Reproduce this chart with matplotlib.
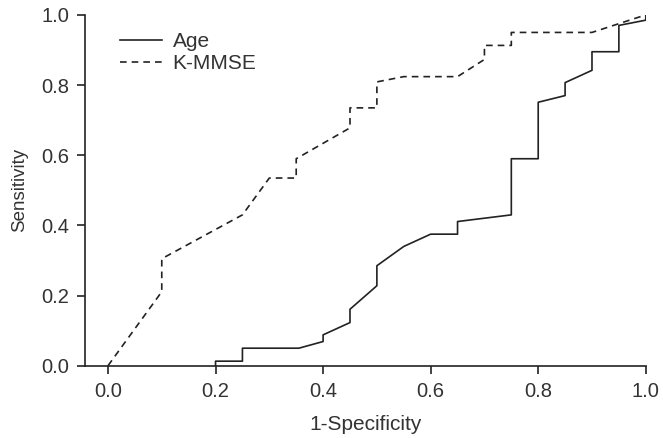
#!/usr/bin/env python3
# -*- coding: utf-8 -*-

import matplotlib
matplotlib.use("Agg")
import matplotlib.pyplot as plt

# ROC curve vertices
age_fpr = [0.20, 0.20, 0.25, 0.25, 0.355, 0.40, 0.40, 0.45, 0.45, 0.50, 0.50,
           0.55, 0.60, 0.65, 0.65, 0.75, 0.75, 0.80, 0.80, 0.85, 0.85, 0.90,
           0.90, 0.95, 0.95, 1.00, 1.00]
age_tpr = [0.00, 0.013, 0.013, 0.05, 0.05, 0.069, 0.088, 0.123, 0.161, 0.228, 0.285,
           0.34, 0.375, 0.375, 0.411, 0.43, 0.59, 0.59, 0.751, 0.77, 0.807, 0.842,
           0.895, 0.895, 0.97, 0.985, 1.00]

mmse_fpr = [0.00, 0.10, 0.10, 0.25, 0.30, 0.35, 0.35, 0.45, 0.45, 0.50, 0.50,
            0.55, 0.65, 0.70, 0.70, 0.75, 0.75, 0.90, 1.00]
mmse_tpr = [0.00, 0.211, 0.305, 0.43, 0.535, 0.535, 0.59, 0.678, 0.735, 0.735, 0.809,
            0.824, 0.824, 0.873, 0.913, 0.913, 0.95, 0.95, 1.00]

x_ticks = [0.0, 0.2, 0.4, 0.6, 0.8, 1.0]
y_ticks = [0.0, 0.2, 0.4, 0.6, 0.8, 1.0]

INK = "#222222"
TXT = "#333333"

plt.rcParams['font.family'] = ['Liberation Sans', 'DejaVu Sans']

fig = plt.figure(figsize=(6.63, 4.38), dpi=100)
ax = fig.add_axes([0.128, 0.165, 0.846, 0.801])

ax.plot(age_fpr, age_tpr, color=INK, lw=1.2, label="Age")
ax.plot(mmse_fpr, mmse_tpr, color=INK, lw=1.2, dashes=(4, 3), label="K-MMSE")

ax.set_xlim(-0.043, 1.0)
ax.set_ylim(0.0, 1.0)
ax.set_xticks(x_ticks)
ax.set_yticks(y_ticks)
ax.set_xticklabels(["%.1f" % v for v in x_ticks])
ax.set_yticklabels(["%.1f" % v for v in y_ticks])

for side in ("top", "right"):
    ax.spines[side].set_visible(False)
for side in ("left", "bottom"):
    ax.spines[side].set_color(INK)
    ax.spines[side].set_linewidth(1.2)

ax.tick_params(direction="out", length=5.5, width=1.2, color=INK,
               labelsize=14.5, labelcolor=TXT)
ax.tick_params(axis="x", pad=6)
ax.tick_params(axis="y", pad=6)
ax.set_xlabel("1-Specificity", fontsize=15, color=TXT, labelpad=10)
ax.set_ylabel("Sensitivity", fontsize=13.5, color=TXT, labelpad=9)

ax.legend(loc="upper left", bbox_to_anchor=(0.03, 1.005), frameon=False,
          fontsize=15, handlelength=2.0, handletextpad=0.5,
          labelspacing=0.15, labelcolor=TXT)

fig.savefig("out.png", dpi=100)
